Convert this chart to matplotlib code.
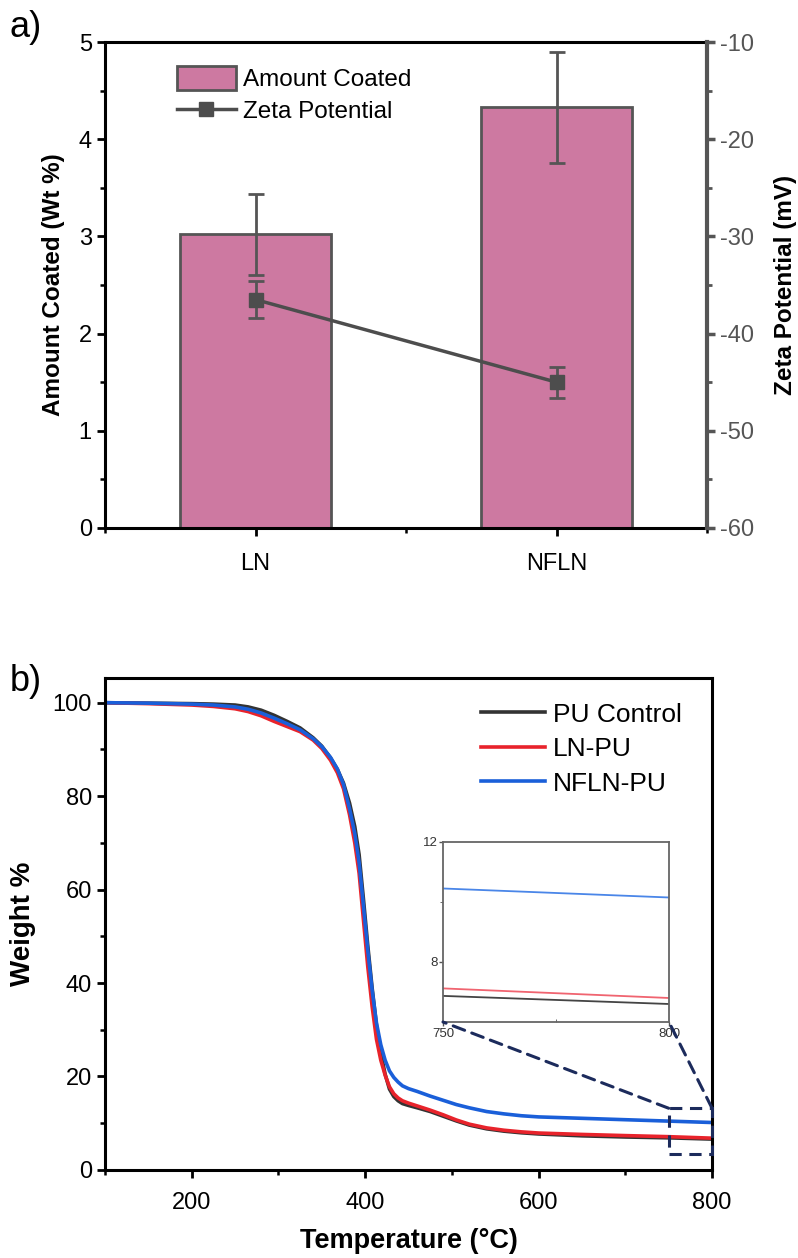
import numpy as np
import matplotlib
matplotlib.use("Agg")
import matplotlib.pyplot as plt
from matplotlib.patches import Rectangle, ConnectionPatch
from matplotlib.lines import Line2D
from matplotlib.ticker import MultipleLocator

plt.rcParams["font.family"] = ["Liberation Sans", "DejaVu Sans"]
plt.rcParams["axes.unicode_minus"] = False

# ---- panel a data ----
samples = ["LN", "NFLN"]
amount_coated = [3.02, 4.33]
amount_err = [0.42, 0.57]
zeta = [-36.5, -45.0]
zeta_err = [1.9, 1.6]

# ---- panel b data ----
temp = [100, 150, 200, 225, 250, 265, 280, 295, 310, 325, 340, 350, 360,
        368, 375, 382, 388, 393, 398, 403, 408, 413, 418, 423, 428, 433,
        438, 443, 450, 460, 475, 490, 505, 520, 540, 560, 580, 600, 650,
        700, 750, 800]
w_control = [100, 99.9, 99.8, 99.7, 99.5, 99.1, 98.4, 97.3, 96.0, 94.6,
             92.5, 90.7, 88.2, 85.7, 82.8, 78.5, 73.5, 67.5, 58.0, 48.0,
             39.0, 31.0, 25.0, 20.5, 17.3, 15.7, 14.8, 14.2, 13.8, 13.3,
             12.5, 11.5, 10.5, 9.6, 8.8, 8.3, 7.95, 7.7, 7.3, 7.05, 6.87, 6.6]
w_ln = [100, 99.8, 99.5, 99.2, 98.7, 98.1, 97.2, 96.0, 94.9, 93.8, 92.0,
        90.2, 87.7, 85.0, 81.6, 76.0, 70.0, 63.5, 53.5, 43.5, 35.0, 28.0,
        23.5, 20.3, 17.8, 16.3, 15.4, 14.8, 14.3, 13.7, 12.8, 11.8, 10.7,
        9.8, 9.0, 8.5, 8.15, 7.9, 7.6, 7.35, 7.12, 6.8]
w_nfln = [100, 99.9, 99.7, 99.5, 99.1, 98.6, 97.8, 96.7, 95.5, 94.2, 92.3,
          90.6, 88.3, 85.8, 82.5, 77.3, 72.0, 65.8, 56.5, 47.0, 38.5, 31.5,
          26.8, 23.5, 21.2, 19.8, 18.8, 18.0, 17.4, 16.8, 15.8, 14.9, 14.0,
          13.3, 12.5, 12.0, 11.6, 11.35, 11.05, 10.75, 10.45, 10.15]

fig = plt.figure(figsize=(7.98, 12.58), dpi=100)

# ================= panel a =================
ax = fig.add_axes([0.1316, 0.5803, 0.7544, 0.3863])
x = np.arange(1, len(samples) + 1)
bars = ax.bar(x, amount_coated, width=0.5, color="#cd79a1",
              edgecolor="#555555", linewidth=2, zorder=2)
ax.errorbar(x, amount_coated, yerr=amount_err, fmt="none", ecolor="#555555",
            elinewidth=2, capsize=6, capthick=2, zorder=3)
ax.set_xlim(0.5, 2.5)
ax.set_ylim(0, 5)
ax.set_xticks(x)
ax.set_xticklabels(samples)
ax.xaxis.set_minor_locator(MultipleLocator(0.5))
ax.yaxis.set_major_locator(MultipleLocator(1))
ax.yaxis.set_minor_locator(MultipleLocator(0.5))
ax.tick_params(axis="both", which="major", labelsize=17, length=6, width=2,
               direction="out")
ax.tick_params(axis="both", which="minor", length=3.5, width=1.8, direction="out")
ax.tick_params(axis="x", which="major", pad=12)
ax.set_ylabel("Amount Coated (Wt %)", fontsize=17.5, fontweight="bold", labelpad=10)
for s in ["left", "bottom", "top"]:
    ax.spines[s].set_linewidth(2.2)
ax.spines["right"].set_visible(False)

ax2 = ax.twinx()
ax2.errorbar(x, zeta, yerr=zeta_err, color="#4d4d4d", marker="s",
             markersize=10, linewidth=2.5, ecolor="#555555",
             elinewidth=2, capsize=6, capthick=2)
ax2.set_ylim(-60, -10)
ax2.yaxis.set_major_locator(MultipleLocator(10))
ax2.yaxis.set_minor_locator(MultipleLocator(5))
ax2.tick_params(axis="y", which="major", labelsize=17, length=6, width=2.5,
                colors="#555555", direction="out")
ax2.tick_params(axis="y", which="minor", length=3.5, width=2, colors="#555555",
                direction="out")
ax2.spines["right"].set_color("#555555")
ax2.spines["right"].set_linewidth(3)
for s in ["left", "bottom", "top"]:
    ax2.spines[s].set_visible(False)
ax2.set_ylabel("Zeta Potential (mV)", fontsize=17.5, fontweight="bold", labelpad=14)

zeta_handle = Line2D([], [], color="#4d4d4d", marker="s", markersize=10, lw=2.5)
ax2.legend([bars, zeta_handle], ["Amount Coated", "Zeta Potential"],
           loc="upper left", bbox_to_anchor=(0.12, 0.95), frameon=False,
           fontsize=17.5, handlelength=2.4, handleheight=1.1, handletextpad=0.3,
           labelspacing=0.3, borderpad=0, borderaxespad=0)

fig.text(0.012, 0.9785, "a)", fontsize=26, va="center")

# ================= panel b =================
bx = fig.add_axes([0.1316, 0.07, 0.7607, 0.3911])
bx.plot(temp, w_control, color="#333333", lw=2.6, label="PU Control")
bx.plot(temp, w_ln, color="#e8232b", lw=2.6, label="LN-PU")
bx.plot(temp, w_nfln, color="#1a5fd9", lw=2.6, label="NFLN-PU")
bx.set_xlim(100, 800)
bx.set_ylim(0, 105.3)
bx.xaxis.set_major_locator(MultipleLocator(200))
bx.xaxis.set_minor_locator(MultipleLocator(100))
bx.yaxis.set_major_locator(MultipleLocator(20))
bx.yaxis.set_minor_locator(MultipleLocator(10))
bx.tick_params(axis="both", which="major", labelsize=17, length=6, width=2,
               direction="out")
bx.tick_params(axis="both", which="minor", length=3.5, width=1.8, direction="out")
bx.tick_params(axis="x", which="major", pad=10)
for s in bx.spines.values():
    s.set_linewidth(2.2)
bx.set_xlabel("Temperature (°C)", fontsize=19.5, fontweight="bold", labelpad=10)
bx.set_ylabel("Weight %", fontsize=20, fontweight="bold", labelpad=12)
bx.legend(loc="upper left", bbox_to_anchor=(0.62, 0.95), frameon=False,
          fontsize=19, handlelength=2.4, handletextpad=0.3, labelspacing=0.4,
          borderpad=0, borderaxespad=0)

# zoom box
rect = Rectangle((750, 3.5), 50, 9.7, fill=False, edgecolor="#1c2b5c",
                 lw=2.2, ls=(0, (4, 2.5)), zorder=4, clip_on=False)
bx.add_patch(rect)

ins = fig.add_axes([0.5551, 0.1876, 0.2832, 0.1431])
ins.plot(temp, w_control, color="#444444", lw=1.3)
ins.plot(temp, w_ln, color="#f06470", lw=1.3)
ins.plot(temp, w_nfln, color="#4a86e8", lw=1.3)
ins.set_xlim(750, 800)
ins.set_ylim(6, 12)
ins.set_xticks([750, 800])
ins.set_yticks([8, 12])
ins.set_yticks([10], minor=True)
ins.set_xticks([775], minor=True)
ins.tick_params(axis="both", which="major", labelsize=9.5, length=3, width=1,
                colors="#555555", labelcolor="#333333", pad=1)
ins.tick_params(axis="x", which="minor", length=2, direction="in", colors="#555555")
ins.tick_params(axis="y", which="minor", length=2, colors="#555555")
for s in ins.spines.values():
    s.set_color("#666666")
    s.set_linewidth(1.3)

for xa, xb in [(750, 0), (800, 1)]:
    con = ConnectionPatch(xyA=(xa, 13.2), coordsA=bx.transData,
                          xyB=(xb, 0), coordsB=ins.transAxes,
                          color="#1c2b5c", lw=2.2, ls=(0, (4, 2.5)))
    fig.add_artist(con)

fig.text(0.012, 0.458, "b)", fontsize=26, va="center")

fig.savefig("out.png", dpi=100, facecolor="white")
